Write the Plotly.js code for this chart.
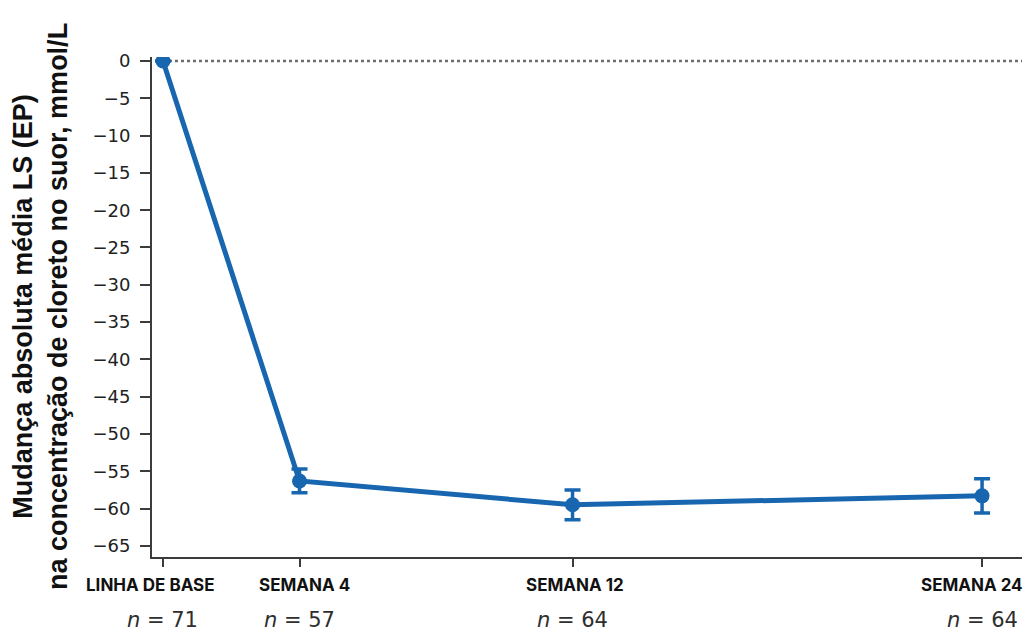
<!DOCTYPE html>
<html>
<head>
<meta charset="utf-8">
<script src="https://cdn.plot.ly/plotly-3.0.1.min.js"></script>
<style>
  html, body { margin: 0; padding: 0; background: #ffffff; }
  #chart { width: 1030px; height: 632px; }
</style>
</head>
<body>
<div id="chart"></div>
<script>
// Study visits (weeks from baseline) and their axis labels
const weeks = [0, 4, 12, 24];
const visitLabels = ['LINHA DE BASE', 'SEMANA 4', 'SEMANA 12', 'SEMANA 24'];
const nPatients = [71, 57, 64, 64];

// LS mean absolute change in sweat chloride (mmol/L) and its standard error
const meanChange = [0, -56.3, -59.5, -58.3];
const stdError = [0, 1.6, 2.0, 2.3];

const yTicks = [0, -5, -10, -15, -20, -25, -30, -35, -40, -45, -50, -55, -60, -65];

const blue = '#1866b0';
const axisColor = '#3c3c3c';

// Small horizontal nudges for the visit names
const labelShift = [-12, 5, 2, -10];

const trace = {
  x: weeks,
  y: meanChange,
  type: 'scatter',
  mode: 'lines+markers',
  line: { color: blue, width: 5 },
  marker: { color: blue, size: 15 },
  error_y: {
    type: 'data',
    array: stdError,
    visible: true,
    color: blue,
    thickness: 3.5,
    width: 8
  },
  cliponaxis: true,
  hoverinfo: 'skip'
};

// Visit names and patient counts under the x axis
const annotations = [];
weeks.forEach((w, i) => {
  annotations.push({
    x: w, xref: 'x', y: 0, yref: 'paper',
    xanchor: 'center', yanchor: 'middle',
    yshift: -28, xshift: labelShift[i],
    text: visitLabels[i],
    showarrow: false,
    font: { family: 'Inter, Roboto, sans-serif', size: 17, weight: 700, color: '#111111' }
  });
  annotations.push({
    x: w, xref: 'x', y: 0, yref: 'paper',
    xanchor: 'center', yanchor: 'middle',
    yshift: -63,
    text: '<i>n</i> = ' + nPatients[i],
    showarrow: false,
    font: { family: 'DejaVu Sans, sans-serif', size: 21, color: '#2e2e2e' }
  });
});

// Two-line y axis title
annotations.push({
  x: 0, xref: 'paper', y: 0.5, yref: 'paper',
  xanchor: 'center', yanchor: 'middle',
  xshift: -112,
  textangle: -90,
  text: 'Mudança absoluta média LS (EP)<br>na concentração de cloreto no suor, mmol/L',
  showarrow: false,
  font: { family: 'Liberation Sans, Arial, sans-serif', size: 27, weight: 700, color: '#111111' }
});

const layout = {
  width: 1030,
  height: 632,
  margin: { l: 152, r: 8, t: 57, b: 75, pad: 0 },
  paper_bgcolor: '#ffffff',
  plot_bgcolor: '#ffffff',
  showlegend: false,
  xaxis: {
    range: [-0.322, 25.17],
    tickvals: weeks,
    showticklabels: false,
    ticks: 'outside',
    ticklen: 8,
    tickwidth: 2,
    tickcolor: axisColor,
    showline: true,
    linecolor: axisColor,
    linewidth: 2,
    showgrid: false,
    zeroline: false,
    fixedrange: true
  },
  yaxis: {
    range: [-66.5, 0.54],
    tickvals: yTicks,
    ticks: 'outside',
    ticklen: 10,
    tickwidth: 2,
    tickcolor: axisColor,
    ticklabelstandoff: 6,
    tickfont: { family: 'DejaVu Sans, sans-serif', size: 18, color: '#222222' },
    showline: true,
    linecolor: axisColor,
    linewidth: 2,
    showgrid: false,
    zeroline: false,
    fixedrange: true
  },
  shapes: [
    {
      type: 'line', layer: 'below',
      xref: 'x', yref: 'y',
      x0: 0, x1: 25.17, y0: 0, y1: 0,
      line: { color: '#6e6e6e', width: 2.5, dash: 'dot' }
    }
  ],
  annotations: annotations
};

Plotly.newPlot('chart', [trace], layout, { staticPlot: true, displayModeBar: false });
</script>
</body>
</html>
